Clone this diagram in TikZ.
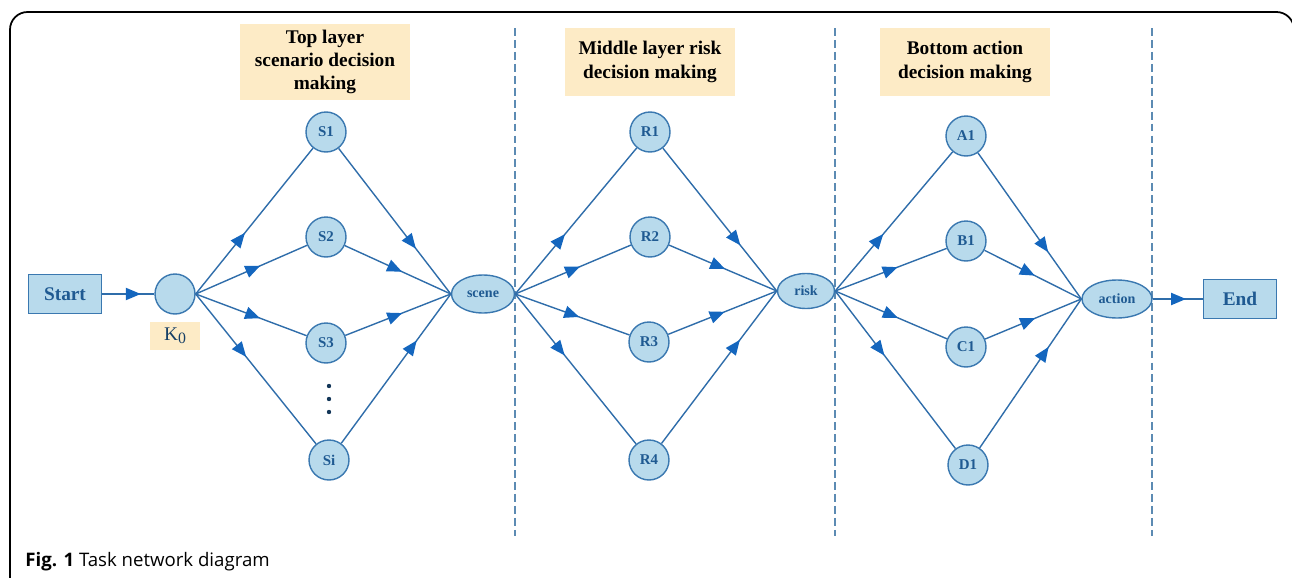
\documentclass[tikz,border=0pt]{standalone}
\usepackage{fontspec}
\setmainfont{Liberation Serif}
\newfontfamily\capfont{Open Sans}
\usetikzlibrary{shapes.geometric,arrows.meta,decorations.markings}
\definecolor{lineBlue}{HTML}{2F6DAA}
\definecolor{tipBlue}{HTML}{1466BE}
\definecolor{nodeFill}{HTML}{B8DAEC}
\definecolor{nodeDraw}{HTML}{3A78B0}
\definecolor{textBlue}{HTML}{1F5A92}
\definecolor{labelFill}{HTML}{FDEBC6}
\definecolor{dashBlue}{HTML}{5C8BB3}
\tikzset{
  state/.style={circle, draw=nodeDraw, fill=nodeFill, line width=0.8pt, minimum size=0.8cm, inner sep=0pt,
    font=\fontsize{8.5}{10}\selectfont\bfseries, text=textBlue},
  merge/.style={ellipse, draw=nodeDraw, fill=nodeFill, line width=0.8pt, inner sep=0pt,
    font=\fontsize{8}{10}\selectfont\bfseries, text=textBlue},
  term/.style={rectangle, draw=nodeDraw, fill=nodeFill, line width=0.8pt, minimum width=1.45cm, minimum height=0.78cm,
    font=\fontsize{11}{13}\selectfont\bfseries, text=textBlue},
  layer/.style={fill=labelFill, minimum width=3.4cm, minimum height=1.38cm, align=center,
    font=\fontsize{11}{13.3}\selectfont\bfseries},
  link/.style={draw=lineBlue, line width=0.8pt},
  midarr/.style={postaction=decorate, decoration={markings,
    mark=at position #1 with {\arrow[tipBlue]{Triangle[length=8.5pt,width=7pt]}}}},
  sep/.style={draw=dashBlue, line width=0.9pt, dash pattern=on 4.5pt off 2.3pt}
}

\begin{document}
\begin{tikzpicture}[x=0.02cm, y=-0.02cm]
  \useasboundingbox (0,0) rectangle (1292,578);
  \clip (0,0) rectangle (1292,578);
  % frame
  \draw[black, line width=1pt, rounded corners=10] (10,590) -- (10,12) -- (1294,12) -- (1294,590);

  % layer titles
  \node[layer] (toplab) at (325,62) {Top layer\\scenario decision\\making};
  \node[layer] (midlab) at (650,62) {Middle layer risk\\decision making};
  \node[layer] (botlab) at (965,62) {Bottom action\\decision making};

  % separators
  \draw[sep] (515,28) -- (515,536);
  \draw[sep] (835,28) -- (835,536);
  \draw[sep] (1152,28) -- (1152,536);

  % nodes
  \node[term] (start) at (65,294) {Start};
  \node[circle, draw=nodeDraw, fill=nodeFill, line width=0.8pt, minimum size=0.8cm] (k0) at (175,294) {};
  \node[fill=labelFill, minimum width=1.02cm, minimum height=0.56cm, text=textBlue!70!black,
    font=\fontsize{11}{13}\selectfont] (k0lab) at (175,336) {K\raisebox{-0.35ex}{\fontsize{9}{10}\selectfont 0}};
  \node[state] (s1) at (326,132) {S1};
  \node[state] (s2) at (326,237) {S2};
  \node[state] (s3) at (326,343) {S3};
  \node[state] (si) at (329,460) {Si};
  \node[merge, minimum width=1.26cm, minimum height=0.76cm] (scene) at (483,294) {scene};
  \node[state] (r1) at (650,132) {R1};
  \node[state] (r2) at (650,237) {R2};
  \node[state] (r3) at (649,342) {R3};
  \node[state] (r4) at (649,460) {R4};
  \node[merge, minimum width=1.14cm, minimum height=0.7cm] (risk) at (806,291) {risk};
  \node[state] (a1) at (966,136) {A1};
  \node[state] (b1) at (966,241) {B1};
  \node[state] (c1) at (966,347) {C1};
  \node[state] (d1) at (968,465) {D1};
  \node[merge, minimum width=1.4cm, minimum height=0.76cm] (action) at (1117,299) {action};
  \node[term] (end) at (1240,299) {End};

  % dots between S3 and Si
  \foreach \y in {386,399,412}
    \fill[textBlue!60!black] (329,\y) circle (2.2);

  % links
  \draw[link, midarr=0.74] (start) -- (k0);
  \draw[link, midarr=0.42] (k0.east) -- (s1);
  \draw[link, midarr=0.58] (k0.east) -- (s2);
  \draw[link, midarr=0.58] (k0.east) -- (s3);
  \draw[link, midarr=0.42] (k0.east) -- (si);
  \draw[link, midarr=0.69] (s1) -- (scene.west);
  \draw[link, midarr=0.54] (s2) -- (scene.west);
  \draw[link, midarr=0.54] (s3) -- (scene.west);
  \draw[link, midarr=0.69] (si) -- (scene.west);

  \draw[link, midarr=0.41] (scene.east) -- (r1);
  \draw[link, midarr=0.56] (scene.east) -- (r2);
  \draw[link, midarr=0.56] (scene.east) -- (r3);
  \draw[link, midarr=0.41] (scene.east) -- (r4);
  \draw[link, midarr=0.68] (r1) -- (risk.west);
  \draw[link, midarr=0.52] (r2) -- (risk.west);
  \draw[link, midarr=0.52] (r3) -- (risk.west);
  \draw[link, midarr=0.68] (r4) -- (risk.west);

  \draw[link, midarr=0.41] (risk.east) -- (a1);
  \draw[link, midarr=0.56] (risk.east) -- (b1);
  \draw[link, midarr=0.56] (risk.east) -- (c1);
  \draw[link, midarr=0.41] (risk.east) -- (d1);
  \draw[link, midarr=0.68] (a1) -- (action.west);
  \draw[link, midarr=0.52] (b1) -- (action.west);
  \draw[link, midarr=0.52] (c1) -- (action.west);
  \draw[link, midarr=0.68] (d1) -- (action.west);
  \draw[link, midarr=0.66] (action) -- (end);

  % caption
  \node[anchor=base west, inner sep=0pt, font=\capfont\fontsize{10.6}{12}\selectfont] (caption) at (25,566)
    {\textbf{Fig. 1} Task network diagram};
\end{tikzpicture}
\end{document}
